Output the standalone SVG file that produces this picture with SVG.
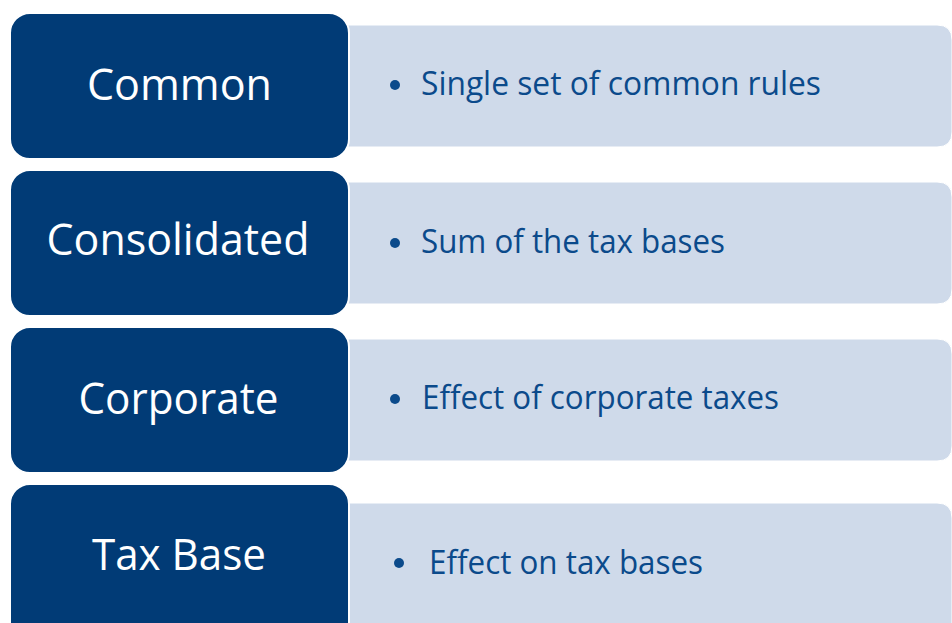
<svg xmlns="http://www.w3.org/2000/svg" width="952" height="623" viewBox="0 0 952 623">
  <style>
    .head { fill: #013B76; stroke: #ffffff; stroke-width: 2; }
    .body { fill: #CFDAEA; stroke: #ffffff; stroke-width: 1; }
    .title { font-family: "Open Sans", "Liberation Sans", sans-serif; font-size: 44px; fill: #ffffff; text-anchor: middle; }
    .item { font-family: "Open Sans", "Liberation Sans", sans-serif; font-size: 32px; fill: #0B4A8B; }
    .dot { fill: #0B4A8B; }
  </style>
  <rect width="952" height="623" fill="#ffffff"/>

  <!-- Row 1 -->
  <g id="row-common">
    <path class="body" d="M330 25 H937 Q952 25 952 40 V132 Q952 147 937 147 H330 Z"/>
    <rect class="head" x="10" y="13" width="339" height="146" rx="20" ry="20"/>
    <text class="title" x="179.5" y="100" textLength="185" lengthAdjust="spacingAndGlyphs">Common</text>
    <circle class="dot" cx="395" cy="85" r="5"/>
    <text class="item" x="421" y="95" textLength="400" lengthAdjust="spacingAndGlyphs">Single set of common rules</text>
  </g>

  <!-- Row 2 -->
  <g id="row-consolidated">
    <path class="body" d="M330 182 H937 Q952 182 952 197 V289 Q952 304 937 304 H330 Z"/>
    <rect class="head" x="10" y="170" width="339" height="146" rx="20" ry="20"/>
    <text class="title" x="178" y="255" textLength="263" lengthAdjust="spacingAndGlyphs">Consolidated</text>
    <circle class="dot" cx="395" cy="243" r="5"/>
    <text class="item" x="421" y="253" textLength="304" lengthAdjust="spacingAndGlyphs">Sum of the tax bases</text>
  </g>

  <!-- Row 3 -->
  <g id="row-corporate">
    <path class="body" d="M330 339 H937 Q952 339 952 354 V446 Q952 461 937 461 H330 Z"/>
    <rect class="head" x="10" y="327" width="339" height="146" rx="20" ry="20"/>
    <text class="title" x="178.5" y="414" textLength="200" lengthAdjust="spacingAndGlyphs">Corporate</text>
    <circle class="dot" cx="395" cy="399" r="5"/>
    <text class="item" x="422" y="409" textLength="357" lengthAdjust="spacingAndGlyphs">Effect of corporate taxes</text>
  </g>

  <!-- Row 4: runs off the bottom edge -->
  <g id="row-tax-base">
    <path class="body" d="M330 503 H937 Q952 503 952 518 V640 H330 Z"/>
    <rect class="head" x="10" y="484" width="339" height="170" rx="20" ry="20"/>
    <text class="title" x="179" y="570" textLength="174" lengthAdjust="spacingAndGlyphs">Tax Base</text>
    <circle class="dot" cx="399" cy="563" r="5"/>
    <text class="item" x="429" y="574" textLength="274" lengthAdjust="spacingAndGlyphs">Effect on tax bases</text>
  </g>
</svg>
